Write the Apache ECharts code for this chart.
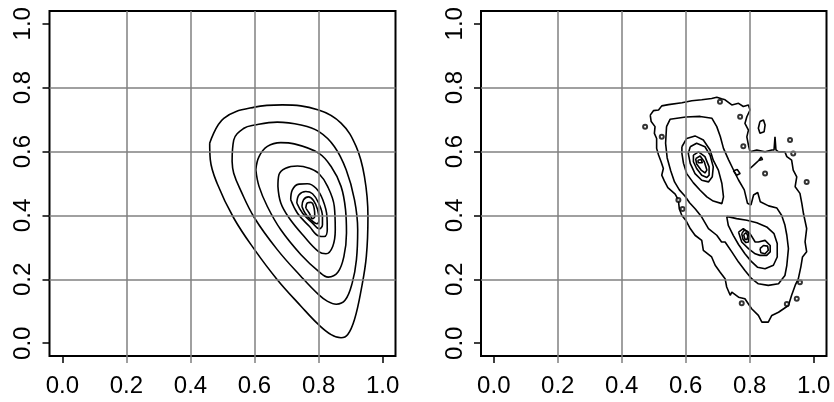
<!DOCTYPE html>
<html>
<head>
<meta charset="utf-8">
<script src="https://cdn.jsdelivr.net/npm/echarts@6/dist/echarts.min.js"></script>
<style>
  html, body { margin: 0; padding: 0; background: #fff; }
  #chart { width: 834px; height: 402px; }
</style>
</head>
<body>
<div id="chart"></div>
<script>
// axis setup
const axisMin = -0.04;
const axisMax = 1.04;
const tickVals = [0, 0.2, 0.4, 0.6, 0.8, 1.0];
const gridVals = [0.2, 0.4, 0.6, 0.8];

// left panel: smooth density contours (outer -> inner)
const leftC1 = [[0.460,0.626],[0.462,0.574],[0.483,0.501],[0.535,0.392],[0.600,0.293],[0.671,0.199],[0.745,0.116],[0.800,0.058],[0.839,0.027],[0.870,0.017],[0.891,0.027],[0.912,0.074],[0.933,0.168],[0.949,0.272],[0.954,0.397],[0.943,0.522],[0.917,0.616],[0.870,0.689],[0.800,0.730],[0.687,0.746],[0.600,0.739],[0.504,0.704],[0.460,0.626]];
const leftC2 = [[0.530,0.569],[0.535,0.532],[0.556,0.480],[0.600,0.392],[0.671,0.293],[0.745,0.209],[0.800,0.152],[0.828,0.131],[0.855,0.122],[0.883,0.135],[0.905,0.189],[0.918,0.261],[0.922,0.355],[0.912,0.449],[0.886,0.543],[0.849,0.616],[0.800,0.663],[0.745,0.683],[0.671,0.692],[0.600,0.683],[0.567,0.673],[0.535,0.636],[0.530,0.569]];
const leftC3 = [[0.604,0.543],[0.614,0.491],[0.640,0.428],[0.682,0.355],[0.745,0.277],[0.800,0.225],[0.830,0.207],[0.860,0.222],[0.879,0.272],[0.887,0.345],[0.884,0.418],[0.870,0.491],[0.839,0.553],[0.800,0.595],[0.724,0.624],[0.682,0.628],[0.640,0.616],[0.614,0.584],[0.604,0.543]];
const leftC4 = [[0.673,0.491],[0.682,0.439],[0.708,0.392],[0.755,0.334],[0.800,0.287],[0.823,0.280],[0.844,0.303],[0.852,0.355],[0.849,0.428],[0.828,0.491],[0.800,0.532],[0.771,0.548],[0.734,0.555],[0.697,0.548],[0.676,0.527],[0.673,0.491]];
const leftC5 = [[0.713,0.449],[0.734,0.407],[0.771,0.366],[0.800,0.336],[0.818,0.334],[0.827,0.355],[0.826,0.397],[0.813,0.449],[0.792,0.485],[0.765,0.499],[0.739,0.498],[0.718,0.480],[0.713,0.449]];
const leftC6 = [[0.732,0.439],[0.750,0.407],[0.781,0.376],[0.802,0.358],[0.812,0.371],[0.812,0.397],[0.800,0.439],[0.781,0.468],[0.760,0.475],[0.739,0.465],[0.732,0.439]];
const leftC7 = [[0.748,0.428],[0.758,0.407],[0.776,0.386],[0.795,0.374],[0.801,0.386],[0.797,0.418],[0.784,0.447],[0.768,0.458],[0.753,0.449],[0.748,0.428]];
const leftC8 = [[0.760,0.423],[0.771,0.407],[0.781,0.390],[0.788,0.397],[0.786,0.423],[0.776,0.441],[0.765,0.439],[0.760,0.423]];

// right panel: rough (empirical) contours
const rightC1 = [[0.489,0.714],[0.499,0.728],[0.515,0.730],[0.525,0.743],[0.546,0.747],[0.588,0.753],[0.619,0.759],[0.650,0.762],[0.681,0.766],[0.697,0.770],[0.712,0.765],[0.723,0.762],[0.744,0.746],[0.765,0.751],[0.780,0.741],[0.796,0.746],[0.801,0.730],[0.791,0.709],[0.785,0.688],[0.796,0.667],[0.791,0.646],[0.796,0.620],[0.801,0.599],[0.822,0.605],[0.848,0.599],[0.869,0.605],[0.876,0.605],[0.879,0.646],[0.882,0.605],[0.890,0.599],[0.910,0.599],[0.916,0.584],[0.931,0.573],[0.936,0.542],[0.947,0.521],[0.942,0.490],[0.957,0.469],[0.963,0.437],[0.968,0.406],[0.978,0.359],[0.973,0.317],[0.978,0.286],[0.965,0.270],[0.960,0.240],[0.952,0.202],[0.942,0.181],[0.931,0.150],[0.921,0.118],[0.890,0.097],[0.869,0.087],[0.858,0.066],[0.838,0.066],[0.827,0.087],[0.806,0.108],[0.785,0.139],[0.765,0.144],[0.744,0.160],[0.739,0.150],[0.728,0.176],[0.723,0.202],[0.707,0.223],[0.692,0.244],[0.681,0.270],[0.655,0.291],[0.650,0.322],[0.629,0.338],[0.614,0.359],[0.600,0.385],[0.588,0.400],[0.580,0.420],[0.577,0.448],[0.567,0.467],[0.544,0.487],[0.533,0.508],[0.525,0.526],[0.530,0.547],[0.523,0.568],[0.515,0.589],[0.509,0.610],[0.509,0.641],[0.502,0.657],[0.504,0.678],[0.492,0.694],[0.489,0.714]];
const rightC2 = [[0.540,0.678],[0.551,0.701],[0.600,0.708],[0.645,0.710],[0.682,0.704],[0.697,0.678],[0.708,0.647],[0.718,0.610],[0.734,0.574],[0.749,0.543],[0.765,0.511],[0.783,0.480],[0.793,0.438],[0.804,0.433],[0.812,0.464],[0.825,0.472],[0.833,0.443],[0.859,0.430],[0.885,0.423],[0.900,0.400],[0.910,0.370],[0.916,0.338],[0.921,0.296],[0.916,0.244],[0.910,0.212],[0.890,0.186],[0.858,0.181],[0.827,0.186],[0.806,0.202],[0.785,0.228],[0.765,0.254],[0.744,0.286],[0.723,0.317],[0.712,0.317],[0.697,0.338],[0.671,0.359],[0.650,0.395],[0.630,0.420],[0.612,0.440],[0.598,0.460],[0.580,0.480],[0.565,0.505],[0.553,0.540],[0.542,0.580],[0.537,0.626],[0.540,0.678]];
const rightC3a = [[0.588,0.615],[0.603,0.641],[0.629,0.649],[0.655,0.636],[0.676,0.605],[0.686,0.573],[0.702,0.542],[0.713,0.500],[0.718,0.458],[0.713,0.437],[0.686,0.445],[0.666,0.458],[0.645,0.479],[0.624,0.502],[0.603,0.531],[0.593,0.563],[0.588,0.594],[0.588,0.615]];
const rightC3b = [[0.728,0.397],[0.759,0.390],[0.791,0.385],[0.822,0.377],[0.853,0.364],[0.876,0.343],[0.886,0.312],[0.886,0.270],[0.874,0.244],[0.848,0.233],[0.824,0.238],[0.804,0.257],[0.785,0.280],[0.765,0.309],[0.749,0.337],[0.733,0.369],[0.728,0.397]];
const rightC4a = [[0.614,0.615],[0.634,0.626],[0.660,0.615],[0.676,0.589],[0.686,0.552],[0.683,0.521],[0.671,0.505],[0.650,0.510],[0.629,0.531],[0.614,0.563],[0.608,0.594],[0.614,0.615]];
const rightC5a = [[0.624,0.589],[0.640,0.599],[0.660,0.584],[0.673,0.552],[0.673,0.526],[0.666,0.519],[0.650,0.526],[0.634,0.547],[0.624,0.568],[0.624,0.589]];
const rightC6a = [[0.631,0.578],[0.645,0.586],[0.658,0.568],[0.666,0.542],[0.660,0.533],[0.648,0.542],[0.634,0.561],[0.631,0.578]];
const rightC7a = [[0.638,0.573],[0.648,0.575],[0.652,0.565],[0.646,0.561],[0.639,0.565],[0.638,0.573]];
const rightC4b = [[0.765,0.348],[0.780,0.359],[0.801,0.343],[0.817,0.317],[0.827,0.317],[0.848,0.322],[0.864,0.306],[0.864,0.286],[0.853,0.275],[0.832,0.275],[0.817,0.280],[0.796,0.296],[0.775,0.317],[0.765,0.348]];
const rightC5b = [[0.775,0.343],[0.783,0.354],[0.794,0.350],[0.798,0.333],[0.796,0.317],[0.788,0.315],[0.779,0.325],[0.775,0.343]];
const rightC5c = [[0.832,0.296],[0.843,0.306],[0.856,0.304],[0.858,0.291],[0.848,0.280],[0.835,0.283],[0.832,0.296]];
const rightC6b = [[0.781,0.340],[0.789,0.346],[0.794,0.336],[0.792,0.325],[0.785,0.325],[0.781,0.340]];
// small islands and a loose branch
const rightBlob = [[0.832,0.694],[0.843,0.699],[0.848,0.683],[0.845,0.662],[0.832,0.657],[0.827,0.673],[0.832,0.694]];
const rightRing = [[0.749,0.540],[0.761,0.544],[0.770,0.531],[0.759,0.526],[0.749,0.540]];
const rightBranch = [[0.801,0.547],[0.815,0.560],[0.828,0.572],[0.836,0.583],[0.842,0.586],[0.840,0.575],[0.828,0.572]];
const rightDots = [[0.473,0.678],[0.525,0.646],[0.707,0.756],[0.770,0.709],[0.780,0.617],[0.577,0.448],[0.590,0.420],[0.926,0.636],[0.978,0.505],[0.936,0.594],[0.848,0.531],[0.775,0.125],[0.916,0.123],[0.947,0.139],[0.957,0.191]];

const leftContours = [leftC1, leftC2, leftC3, leftC4, leftC5, leftC6, leftC7, leftC8];
const rightContours = [rightC1, rightC2, rightC3a, rightC3b, rightC4a, rightC5a, rightC6a, rightC7a,
  rightC4b, rightC5b, rightC5c, rightC6b, rightBlob, rightRing, rightBranch];

const font = 'Liberation Sans, Arial, Helvetica, sans-serif';
const endTicks = tickVals.filter(v => gridVals.indexOf(v) < 0);
const fmt = v => Number(v).toFixed(1);

function mainX(i) {
  return {
    gridIndex: i, type: 'value', min: axisMin, max: axisMax, position: 'bottom',
    axisLine: { show: false, onZero: false },
    axisTick: { show: true, length: 7, customValues: endTicks, lineStyle: { color: '#000', width: 1.5 } },
    axisLabel: { customValues: tickVals, formatter: fmt, fontSize: 24, color: '#000', fontFamily: font, margin: 18 },
    splitLine: { show: false }
  };
}
function greyX(i) {
  // the grid lines poke through the frame as grey tick marks
  return {
    gridIndex: i, type: 'value', min: axisMin, max: axisMax, position: 'bottom',
    axisLine: { show: false, onZero: false },
    axisTick: { show: true, length: 7, customValues: gridVals, lineStyle: { color: '#808080', width: 1.5 } },
    axisLabel: { show: false },
    splitLine: { show: false }
  };
}
function mainY(i) {
  return {
    gridIndex: i, type: 'value', min: axisMin, max: axisMax, position: 'left',
    axisLine: { show: false, onZero: false },
    axisTick: { show: true, length: 7, customValues: tickVals, lineStyle: { color: '#000', width: 1.5 } },
    axisLabel: { customValues: tickVals, formatter: fmt, rotate: 90, fontSize: 24, color: '#000', fontFamily: font, margin: 14 },
    splitLine: { show: false }
  };
}

function contourSeries(list, idx, smooth) {
  return list.map(pts => ({
    type: 'line', xAxisIndex: idx, yAxisIndex: idx, data: pts,
    showSymbol: false, smooth: smooth, silent: true, z: 2,
    lineStyle: { color: '#000', width: 1.6 }
  }));
}
function gridSeries(idx) {
  return {
    type: 'line', xAxisIndex: idx, yAxisIndex: idx, data: [], silent: true, z: 3,
    markLine: {
      silent: true, symbol: ['none', 'none'], label: { show: false },
      lineStyle: { color: '#808080', width: 1.5, type: 'solid' },
      data: gridVals.map(v => ({ xAxis: v })).concat(gridVals.map(v => ({ yAxis: v })))
    }
  };
}

const myChart = echarts.init(document.getElementById('chart'));
myChart.setOption({
  animation: false,
  backgroundColor: '#fff',
  grid: [
    { left: 49.5, top: 11, width: 346, height: 345, show: true, borderColor: '#000', borderWidth: 2, backgroundColor: 'transparent' },
    { left: 481, top: 11, width: 345.5, height: 345, show: true, borderColor: '#000', borderWidth: 2, backgroundColor: 'transparent' }
  ],
  xAxis: [mainX(0), mainX(1), greyX(0), greyX(1)],
  yAxis: [mainY(0), mainY(1)],
  series: [].concat(
    contourSeries(leftContours, 0, 0.4),
    contourSeries(rightContours, 1, false),
    [{
      type: 'scatter', xAxisIndex: 1, yAxisIndex: 1, data: rightDots, silent: true, z: 2,
      symbol: 'emptyCircle', symbolSize: 4, itemStyle: { color: '#000', borderColor: '#000', borderWidth: 1.2 }
    }],
    [gridSeries(0), gridSeries(1)]
  )
});
</script>
</body>
</html>
